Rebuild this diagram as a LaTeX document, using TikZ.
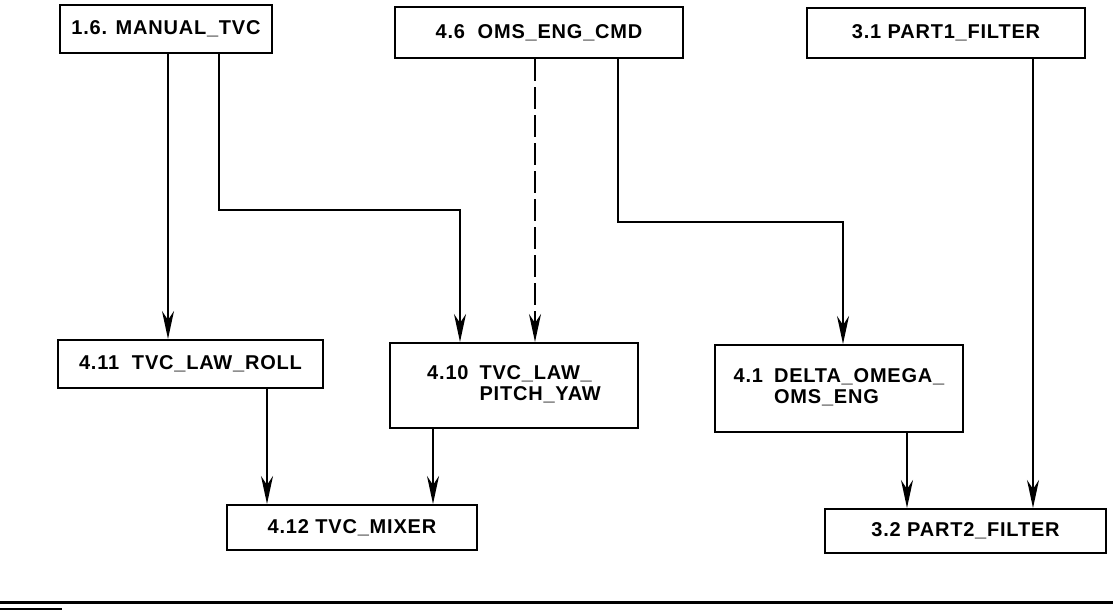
\documentclass[tikz,border=0pt]{standalone}
\usepackage{fontspec}
\setmainfont{Liberation Sans}[LetterSpace=4]
\usetikzlibrary{arrows.meta}
\begin{document}
\begin{tikzpicture}[x=1pt,y=-1pt,
  box/.style={draw, line width=2pt, inner sep=0pt, font=\fontsize{20}{21}\selectfont\bfseries},
  flow/.style={line width=1.7pt, -{Stealth[length=28pt,width=12pt,inset=9pt]}},
  dflow/.style={flow, dash pattern=on 22pt off 6pt},
  rule/.style={line width=3pt}
]
\useasboundingbox (0,0) rectangle (1113,610);
% boxes
\node[box, minimum width=212pt, minimum height=48pt] (manual) at (166,29) {1.6. MANUAL\_TVC};
\node[box, minimum width=288pt, minimum height=51pt] (oms) at (539,32.5) {4.6\ \ OMS\_ENG\_CMD};
\node[box, minimum width=278pt, minimum height=50pt] (part1) at (946,33) {3.1 PART1\_FILTER};
\node[box, minimum width=265pt, minimum height=48pt] (roll) at (190.5,364) {4.11\ \ TVC\_LAW\_ROLL};
\node[box, minimum width=248pt, minimum height=85pt] (pitch) at (514,385.5)
  {\begin{tabular}{@{}l@{\hspace{11pt}}l@{}}4.10 & TVC\_LAW\_\\ & PITCH\_YAW\end{tabular}};
\node[box, minimum width=248pt, minimum height=87pt] (delta) at (839,388.5)
  {\begin{tabular}{@{}l@{\hspace{11pt}}l@{}}4.1 & DELTA\_OMEGA\_\\ & OMS\_ENG\end{tabular}};
\node[box, minimum width=250pt, minimum height=45pt] (mixer) at (352,527.5) {4.12 TVC\_MIXER};
\node[box, minimum width=281pt, minimum height=44pt] (part2) at (965.5,531) {3.2 PART2\_FILTER};
% column coordinates
\coordinate (kA) at (168,0);
\coordinate (kB) at (219,210);
\coordinate (kI) at (460,210);
\coordinate (kC) at (535,0);
\coordinate (kD) at (618,222);
\coordinate (kJ) at (843,222);
\coordinate (kE) at (1033,0);
\coordinate (kF) at (267,0);
\coordinate (kG) at (433,0);
\coordinate (kH) at (907,0);
% connectors
\draw[flow] (manual.south -| kA) -- (roll.north -| kA);
\draw[flow] (manual.south -| kB) -- (kB) -- (kI) -- (pitch.north -| kI);
\draw[dflow] (oms.south -| kC) -- (pitch.north -| kC);
\draw[flow] (oms.south -| kD) -- (kD) -- (kJ) -- (delta.north -| kJ);
\draw[flow] (part1.south -| kE) -- (part2.north -| kE);
\draw[flow] (roll.south -| kF) -- (mixer.north -| kF);
\draw[flow] (pitch.south -| kG) -- (mixer.north -| kG);
\draw[flow] (delta.south -| kH) -- (part2.north -| kH);
% bottom rule
\coordinate (r0) at (0,602);
\coordinate (r1) at (1113,602);
\coordinate (s0) at (0,609);
\coordinate (s1) at (62,609);
\draw[rule] (r0) -- (r1);
\draw[line width=1.5pt] (s0) -- (s1);
\end{tikzpicture}
\end{document}
